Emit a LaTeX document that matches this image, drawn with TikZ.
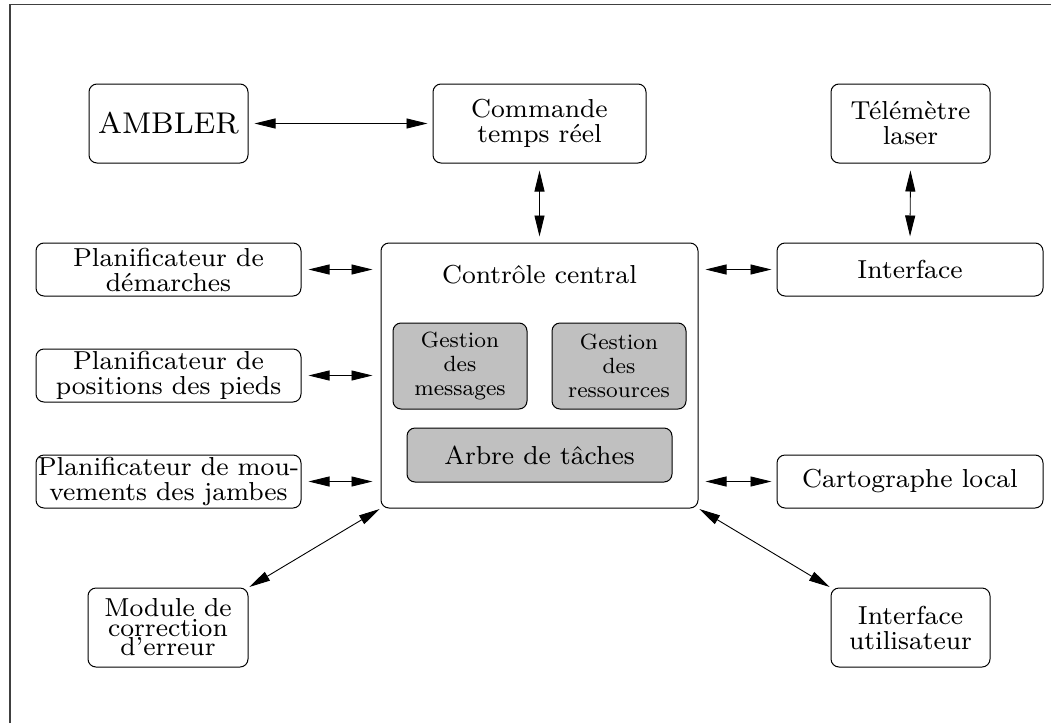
\documentclass[tikz,border=0pt]{standalone}
\usepackage{fontspec}
\setmainfont{lmroman8-regular.otf}
\usetikzlibrary{arrows.meta}
\definecolor{boxgray}{RGB}{192,192,192}
\definecolor{framegray}{RGB}{64,64,64}
\newcommand\nfont{\fontsize{26}{25}\selectfont}
\newcommand\sfontx{\fontsize{22}{24}\selectfont}
\newcommand\bfontx{\fontsize{30}{32}\selectfont}
\newcommand\tfontx{\fontsize{26}{19.5}\selectfont}
\begin{document}
\begin{tikzpicture}[x=1pt,y=-1pt,
  box/.style={draw, rounded corners=8pt, line width=1pt, inner sep=0pt, align=center, font=\nfont},
  graybox/.style={box, fill=boxgray, font=\sfontx},
  dbl/.style={{Triangle[length=21pt,width=10pt]}-{Triangle[length=21pt,width=10pt]}, line width=0.9pt},
  frame/.style={line width=1.5pt, draw=framegray}]
\useasboundingbox (0,0) rectangle (1051,723);
\draw[frame] (10,723) -- (10,4.5) -- (1051,4.5);

\node[box, minimum width=159pt, minimum height=79pt, font=\bfontx] (ambler) at (168.5,123.5) {AMBLER};
\node[box, minimum width=213pt, minimum height=79pt] (cmd) at (539.5,123.5) {Commande\\temps réel};
\node[box, minimum width=159pt, minimum height=79pt] (tele) at (910.5,123.5) {Télémètre\\laser};

\node[box, minimum width=317pt, minimum height=265pt] (ctrl) at (539.5,375.5) {};
\node[font=\nfont, inner sep=0pt] (ctrltxt) at (539.5,275) {Contrôle central};
\node[graybox, minimum width=134pt, minimum height=86pt] (gmsg) at (460,366) {Gestion\\des\\messages};
\node[graybox, minimum width=134pt, minimum height=86pt] (gres) at (619,366) {Gestion\\des\\ressources};
\node[box, fill=boxgray, minimum width=265pt, minimum height=54pt] (arbre) at (539.5,455) {Arbre de tâches};

\node[box, minimum width=265pt, minimum height=53pt] (p1) at (168.5,269.5) {Planificateur de\\démarches};
\node[box, minimum width=265pt, minimum height=53pt] (p2) at (168.5,375.5) {Planificateur de\\positions des pieds};
\node[box, minimum width=265pt, minimum height=53pt] (p3) at (168.5,481.5) {Planificateur de mou-\\vements des jambes};

\node[box, minimum width=266pt, minimum height=53pt] (intf) at (910,269.5) {Interface};
\node[box, minimum width=266pt, minimum height=53pt] (carto) at (910,481.5) {Cartographe local};

\node[box, minimum width=160pt, minimum height=79pt, font=\tfontx] (module) at (168,627.5) {Module de\\correction\\d'erreur};
\node[box, minimum width=159pt, minimum height=79pt] (iu) at (910.5,627.5) {Interface\\utilisateur};

\draw[dbl, shorten <=6pt, shorten >=5pt] (ambler.east) -- (cmd.west);
\draw[dbl, shorten <=7pt, shorten >=6pt] (cmd.south) -- (ctrl.north);
\draw[dbl, shorten <=7pt, shorten >=6pt] (tele.south) -- (intf.north);
\draw[dbl, shorten <=7pt, shorten >=8pt] (p1.east) -- (p1.east -| ctrl.west);
\draw[dbl, shorten <=7pt, shorten >=8pt] (p2.east) -- (p2.east -| ctrl.west);
\draw[dbl, shorten <=7pt, shorten >=8pt] (p3.east) -- (p3.east -| ctrl.west);
\draw[dbl, shorten <=7pt, shorten >=5pt] (intf.west -| ctrl.east) -- (intf.west);
\draw[dbl, shorten <=7pt, shorten >=5pt] (carto.west -| ctrl.east) -- (carto.west);
\draw[dbl, shorten <=1pt, shorten >=1pt] (ctrl.south west) -- (module.north east);
\draw[dbl, shorten <=1pt, shorten >=1pt] (ctrl.south east) -- (iu.north west);
\end{tikzpicture}
\end{document}
